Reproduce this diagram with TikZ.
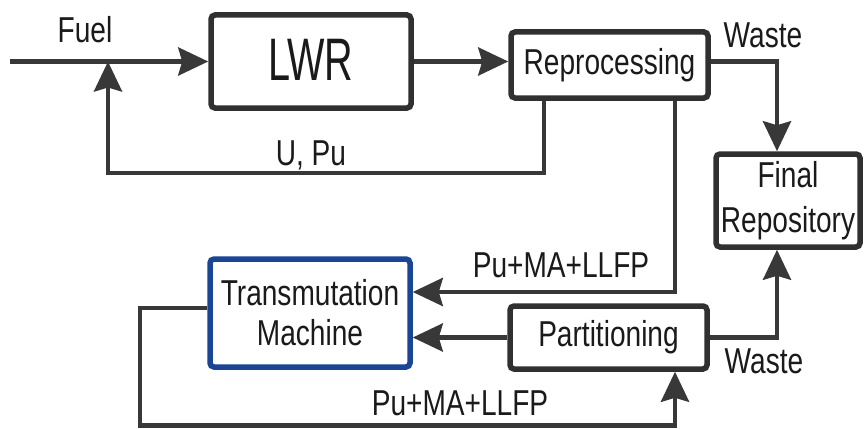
\documentclass[tikz,border=0pt]{standalone}
\usepackage{fontspec}
\setmainfont{Liberation Sans}[FakeStretch=0.78]
\newfontfamily\lwrfont{Liberation Sans}[FakeStretch=0.66]
\usetikzlibrary{arrows.meta}
\definecolor{boxgray}{HTML}{303030}
\definecolor{linegray}{HTML}{383838}
\definecolor{txt}{HTML}{1A1A1A}
\definecolor{tmblue}{HTML}{1A4595}
\newcommand\mylbl{\fontsize{36}{42}\selectfont}
\tikzset{
  box/.style={draw=boxgray, line width=5.5pt, rounded corners=4pt, fill=white, inner sep=0pt, text=txt, font=\mylbl, align=center},
  flow/.style={draw=linegray, line width=4.5pt},
  arr/.style={flow, -{Stealth[length=30pt,width=28pt,inset=4pt]}},
  lab/.style={text=txt, font=\mylbl, anchor=base, inner sep=0pt},
}
\begin{document}
\begin{tikzpicture}[x=1pt,y=-1pt]
\useasboundingbox[fill=white] (0,0) rectangle (864,428);
% boxes
\node[box, minimum width=200pt, minimum height=93pt] (lwr) at (311,61.5) {\raisebox{4pt}{\lwrfont\fontsize{60}{60}\selectfont LWR}};
\node[box, minimum width=197pt, minimum height=66pt] (rep) at (609.5,65) {\raisebox{-3pt}{Reprocessing}};
\node[box, minimum width=144pt, minimum height=93pt, font=\fontsize{36}{45}\selectfont] (fr) at (788,200.5) {Final\\Repository};
\node[box, draw=tmblue, minimum width=200pt, minimum height=108pt, font=\fontsize{36}{40}\selectfont] (tm) at (310,313) {Transmutation\\Machine};
\node[box, minimum width=197pt, minimum height=63pt] (part) at (608.5,337.5) {Partitioning};
% helper coordinates
\coordinate (fuelin) at (10,61.5);
\coordinate (fb) at (108,173);
\coordinate (fbr) at (544,173);
\coordinate (w1) at (777,61.5);
\coordinate (pm) at (675,292);
\coordinate (t1) at (140,308);
\coordinate (t2) at (140,425.5);
% connectors
\draw[arr] (fuelin) -- (lwr.west);
\draw[arr] (lwr.east) -- (lwr.east -| rep.west);
\draw[arr] (fbr |- rep.south) -- (fbr) -- (fb) -- (fb |- lwr.west);
\draw[arr] (rep.east |- w1) -- (w1) -- (w1 |- fr.north);
\draw[arr] (pm |- rep.south) -- (pm) -- (pm -| tm.east);
\draw[arr] (part.west) -- (part.west -| tm.east);
\draw[arr] (part.east) -- (part.east -| w1) -- (w1 |- fr.south);
\draw[arr] (tm.west |- t1) -- (t1) -- (t2) -- (t2 -| pm) -- (pm |- part.south);
% labels
\node[lab] (fuel) at (85,42) {Fuel};
\node[lab] (upu) at (311,165) {U, Pu};
\node[lab] (waste1) at (763,48) {Waste};
\node[lab] (pm1) at (561,277) {Pu+MA+LLFP};
\node[lab] (waste2) at (764,373) {Waste};
\node[lab] (pm2) at (460,415) {Pu+MA+LLFP};
\end{tikzpicture}
\end{document}
